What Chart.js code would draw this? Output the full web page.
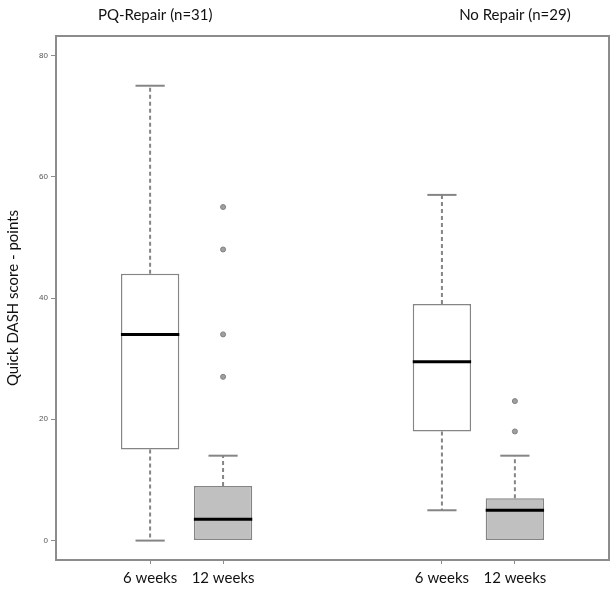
<!DOCTYPE html>
<html>
<head>
<meta charset="utf-8">
<script src="https://cdn.jsdelivr.net/npm/chart.js@4.4.1/dist/chart.umd.min.js"></script>
<style>
  html, body { margin: 0; padding: 0; background: #fff; }
  canvas { display: block; }
</style>
</head>
<body>
<canvas id="chart" width="614" height="589"></canvas>
<script>
// box plot values
const categories = ['6 weeks', '12 weeks', '6 weeks', '12 weeks'];
const positions = [1, 2, 5, 6];
const groups = ['PQ-Repair (n=31)', 'No Repair (n=29)'];
const groupTitleAt = [1.07, 6.0];
const whiskerLow = [0, 0, 5, 0];
const q1 = [15, 0, 18, 0];
const median = [34, 3.5, 29.5, 5];
const q3 = [44, 9, 39, 7];
const whiskerHigh = [75, 14, 57, 14];
const outliers = [[], [27, 34, 48, 55], [], [18, 23]];
const yTicks = [0, 20, 40, 60, 80];

const boxFill = ['#ffffff', '#c0c0c0', '#ffffff', '#c0c0c0'];
const greyLine = '#858585';
const textFont = 'Lato, "Open Sans", sans-serif';

const boxData = positions.map((x, i) => ({ x: x, y: [q1[i], q3[i]] }));
const outlierData = [];
outliers.forEach((list, i) => list.forEach(v => outlierData.push({ x: positions[i], y: v })));

const boxExtras = {
  id: 'boxExtras',
  beforeDraw(chart) {
    const ctx = chart.ctx;
    ctx.save();
    ctx.fillStyle = '#fff';
    ctx.fillRect(0, 0, chart.width, chart.height);
    ctx.restore();
  },
  afterDatasetsDraw(chart) {
    const ctx = chart.ctx;
    const y = chart.scales.y;
    const meta = chart.getDatasetMeta(0);
    ctx.save();
    meta.data.forEach((el, i) => {
      const cx = el.x;
      const half = el.width / 2;
      const cap = el.width / 4;
      // whiskers
      ctx.strokeStyle = greyLine;
      ctx.lineWidth = 2;
      ctx.setLineDash([4, 3]);
      if (whiskerHigh[i] > q3[i]) {
        ctx.beginPath();
        ctx.moveTo(cx, y.getPixelForValue(q3[i]));
        ctx.lineTo(cx, y.getPixelForValue(whiskerHigh[i]));
        ctx.stroke();
      }
      if (whiskerLow[i] < q1[i]) {
        ctx.beginPath();
        ctx.moveTo(cx, y.getPixelForValue(q1[i]));
        ctx.lineTo(cx, y.getPixelForValue(whiskerLow[i]));
        ctx.stroke();
      }
      ctx.setLineDash([]);
      // caps
      [whiskerHigh[i], whiskerLow[i]].forEach(v => {
        if (v === q1[i] || v === q3[i]) return;
        const py = y.getPixelForValue(v);
        ctx.beginPath();
        ctx.moveTo(cx - cap, py);
        ctx.lineTo(cx + cap, py);
        ctx.stroke();
      });
      // median
      const my = y.getPixelForValue(median[i]);
      ctx.strokeStyle = '#000';
      ctx.lineWidth = 3;
      ctx.beginPath();
      ctx.moveTo(cx - half, my);
      ctx.lineTo(cx + half, my);
      ctx.stroke();
    });
    ctx.restore();
  },
  afterDraw(chart) {
    const ctx = chart.ctx;
    const a = chart.chartArea;
    const x = chart.scales.x;
    ctx.save();
    // plot frame
    ctx.strokeStyle = '#8c8c8c';
    ctx.lineWidth = 2;
    ctx.strokeRect(a.left, a.top, a.right - a.left, a.bottom - a.top);
    // group titles
    ctx.fillStyle = '#111';
    ctx.font = '15px ' + textFont;
    ctx.textAlign = 'center';
    ctx.textBaseline = 'middle';
    groups.forEach((g, i) => ctx.fillText(g, x.getPixelForValue(groupTitleAt[i]), 15));
    ctx.restore();
  }
};

new Chart(document.getElementById('chart'), {
  type: 'bar',
  data: {
    datasets: [{
      label: 'box',
      data: boxData,
      backgroundColor: boxFill,
      borderColor: greyLine,
      borderWidth: 1.5,
      borderSkipped: false,
      categoryPercentage: 1,
      barPercentage: 0.8,
      grouped: false
    }, {
      type: 'scatter',
      label: 'outliers',
      data: outlierData,
      pointRadius: 2.5,
      pointBackgroundColor: '#a0a0a0',
      pointBorderColor: '#808080',
      pointBorderWidth: 1
    }]
  },
  options: {
    responsive: false,
    animation: false,
    layout: { padding: { left: 0, top: 36, right: 5, bottom: 0 } },
    plugins: { legend: { display: false }, tooltip: { enabled: false } },
    scales: {
      x: {
        type: 'linear',
        min: -0.29,
        max: 7.29,
        offset: false,
        border: { display: false },
        grid: { offset: false, drawOnChartArea: false, tickLength: 4, color: '#8c8c8c' },
        afterBuildTicks(scale) { scale.ticks = positions.map(v => ({ value: v })); },
        afterFit(scale) { scale.height = 29; },
        ticks: {
          autoSkip: false,
          maxRotation: 0,
          padding: 5,
          color: '#111',
          font: { family: textFont, size: 15 },
          callback: (v) => categories[positions.indexOf(v)]
        }
      },
      y: {
        min: -3.2,
        max: 83.2,
        border: { display: false },
        grid: { drawOnChartArea: false, tickLength: 5, color: '#8c8c8c' },
        afterBuildTicks(scale) { scale.ticks = yTicks.map(v => ({ value: v })); },
        afterFit(scale) { scale.width = 56; },
        ticks: {
          padding: 3,
          color: '#555',
          font: { family: '"Liberation Sans", sans-serif', size: 8 }
        },
        title: {
          display: true,
          text: 'Quick DASH score - points',
          color: '#111',
          padding: { top: 4, bottom: 0 },
          font: { family: textFont, size: 15 }
        }
      }
    }
  },
  plugins: [boxExtras]
});
</script>
</body>
</html>
